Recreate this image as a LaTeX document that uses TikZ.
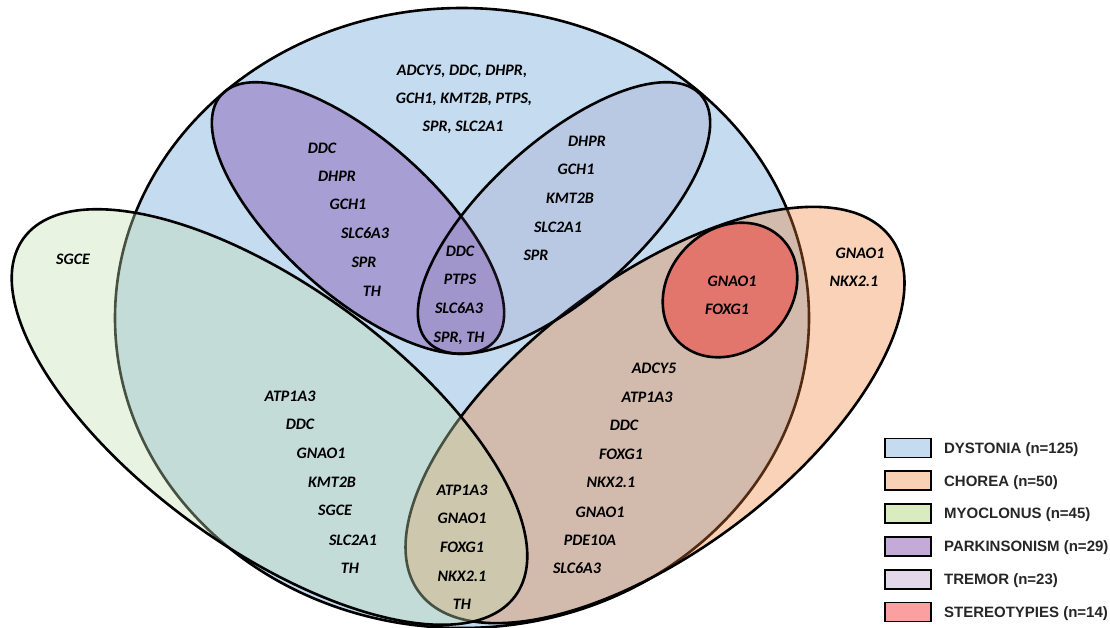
\documentclass[tikz,border=0pt]{standalone}
\usepackage{fontspec}
\setmainfont{Carlito}
\newfontfamily\keyfont{Liberation Sans}
\usetikzlibrary{positioning}
\definecolor{dysfill}{HTML}{C5DBEF}
\definecolor{chofill}{HTML}{ED7D31}
\definecolor{myofill}{HTML}{C3DEB1}
\definecolor{parfill}{HTML}{7030A0}
\definecolor{trefill}{HTML}{8064A2}
\definecolor{stefill}{HTML}{FF0000}
\definecolor{keydys}{HTML}{C5DBEF}
\definecolor{keycho}{HTML}{F8D1B4}
\definecolor{keymyo}{HTML}{D8ECC0}
\definecolor{keypar}{HTML}{C4AAD8}
\definecolor{keytre}{HTML}{E3D8EA}
\definecolor{keyste}{HTML}{FAA0A0}
\begin{document}
\begin{tikzpicture}[x=1pt,y=-1pt,
    set/.style={draw=black,line width=2.6pt},
    gene/.style={inner sep=0pt,text height=10.3pt,text depth=0pt,
      font=\fontsize{16}{16}\selectfont\bfseries\itshape},
    key/.style={draw=black,line width=1.8pt,minimum width=46pt,
      minimum height=19pt,inner sep=0pt},
    keytext/.style={anchor=west,inner sep=0pt,text height=10.7pt,text depth=0pt,
      text=black!85,font=\keyfont\bfseries\fontsize{15}{15}\selectfont}]
  \useasboundingbox (0,0) rectangle (1110,627);

  % Sets
  \draw[set, fill=dysfill] (462,318) ellipse [x radius=347, y radius=310];
  \draw[set, fill=chofill, fill opacity=0.35, rotate around={37:(655,415)}]
    (655,415) ellipse [x radius=295, y radius=136];
  \draw[set, fill=myofill, fill opacity=0.37, rotate around={-36:(269.5,417)}]
    (269.5,417) ellipse [x radius=304, y radius=131];
  \draw[set, fill=parfill, fill opacity=0.35, rotate around={-42:(358,218)}]
    (358,218) ellipse [x radius=184, y radius=77];
  \draw[set, fill=trefill, fill opacity=0.15, rotate around={42:(564,218)}]
    (564,218) ellipse [x radius=184, y radius=77];
  \draw[set, fill=stefill, fill opacity=0.36, rotate around={45:(730,290)}]
    (730,290) ellipse [x radius=73, y radius=61];

  % Dystonia only
  \node[gene] (dys1) at (462,70) {ADCY5, DDC, DHPR,};
  \node[gene] (dys2) at (464,98) {GCH1, KMT2B, PTPS,};
  \node[gene] (dys3) at (463,126) {SPR, SLC2A1};

  % Parkinsonism
  \node[gene] (par1) at (322,148) {DDC};
  \node[gene] (par2) at (337,176) {DHPR};
  \node[gene] (par3) at (348,204) {GCH1};
  \node[gene] (par4) at (365,233) {SLC6A3};
  \node[gene] (par5) at (364,262) {SPR};
  \node[gene] (par6) at (372,291) {TH};

  % Parkinsonism and tremor
  \node[gene] (pt1) at (460,251) {DDC};
  \node[gene] (pt2) at (460,279) {PTPS};
  \node[gene] (pt3) at (459,308) {SLC6A3};
  \node[gene] (pt4) at (459,337) {SPR, TH};

  % Tremor
  \node[gene] (tre1) at (587,141) {DHPR};
  \node[gene] (tre2) at (576,169) {GCH1};
  \node[gene] (tre3) at (570,198) {KMT2B};
  \node[gene] (tre4) at (558,227) {SLC2A1};
  \node[gene] (tre5) at (536,255) {SPR};

  % Stereotypies
  \node[gene] (ste1) at (732,281) {GNAO1};
  \node[gene] (ste2) at (727,309) {FOXG1};

  % Chorea only
  \node[gene] (cho1) at (860,253) {GNAO1};
  \node[gene] (cho2) at (854,281) {NKX2.1};

  % Myoclonus only
  \node[gene] (myo1) at (73,259) {SGCE};

  % Myoclonus and dystonia
  \node[gene] (md1) at (290,396) {ATP1A3};
  \node[gene] (md2) at (300,424) {DDC};
  \node[gene] (md3) at (321,453) {GNAO1};
  \node[gene] (md4) at (332,482) {KMT2B};
  \node[gene] (md5) at (335,510) {SGCE};
  \node[gene] (md6) at (353,540) {SLC2A1};
  \node[gene] (md7) at (350,568) {TH};

  % Myoclonus and chorea
  \node[gene] (mc1) at (462,490) {ATP1A3};
  \node[gene] (mc2) at (462,518) {GNAO1};
  \node[gene] (mc3) at (462,547) {FOXG1};
  \node[gene] (mc4) at (462,576) {NKX2.1};
  \node[gene] (mc5) at (462,604) {TH};

  % Chorea and dystonia
  \node[gene] (cd1) at (654,368) {ADCY5};
  \node[gene] (cd2) at (647,397) {ATP1A3};
  \node[gene] (cd3) at (624,425) {DDC};
  \node[gene] (cd4) at (621,454) {FOXG1};
  \node[gene] (cd5) at (611,482) {NKX2.1};
  \node[gene] (cd6) at (600,512) {GNAO1};
  \node[gene] (cd7) at (590,540) {PDE10A};
  \node[gene] (cd8) at (577,568) {SLC6A3};

  % Legend
  \node[key, fill=keydys] (kdys) at (908,448) {};
  \node[key, fill=keycho, below=12pt of kdys] (kcho) {};
  \node[key, fill=keymyo, below=12pt of kcho] (kmyo) {};
  \node[key, fill=keypar, below=12pt of kmyo] (kpar) {};
  \node[key, fill=keytre, below=12pt of kpar] (ktre) {};
  \node[key, fill=keyste, below=12pt of ktre] (kste) {};
  \node[keytext, right=12pt of kdys] (ldys) {DYSTONIA (n=125)};
  \node[keytext, right=12pt of kcho] (lcho) {CHOREA (n=50)};
  \node[keytext, right=12pt of kmyo] (lmyo) {MYOCLONUS (n=45)};
  \node[keytext, right=12pt of kpar] (lpar) {PARKINSONISM (n=29)};
  \node[keytext, right=12pt of ktre] (ltre) {TREMOR (n=23)};
  \node[keytext, right=12pt of kste] (lste) {STEREOTYPIES (n=14)};
\end{tikzpicture}
\end{document}
